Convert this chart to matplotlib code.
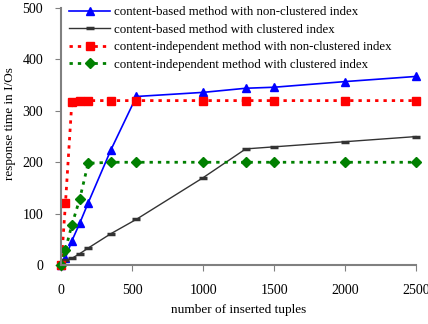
import matplotlib
matplotlib.use("Agg")
import matplotlib.pyplot as plt

plt.rcParams['font.family'] = ['Liberation Serif', 'DejaVu Serif']

tuples = [0, 30, 75, 130, 190, 350, 530, 1000, 1300, 1500, 2000, 2500]
cb_nonclust = [0, 14, 47, 81, 121, 224, 328, 336, 344, 346, 357, 367]
cb_clust = [0, 9, 13, 22, 33, 61, 89, 170, 226, 230, 240, 250]
ci_nonclust = [0, 120, 317, 320, 320, 320, 320, 320, 320, 320, 320, 320]
ci_clust = [0, 30, 78, 128, 198, 200, 200, 200, 200, 200, 200, 200]

labels = ["content-based method with non-clustered index",
          "content-based method with clustered index",
          "content-independent method with non-clustered index",
          "content-independent method with clustered index"]

fig = plt.figure(figsize=(4.28, 3.24), dpi=100)
ax = fig.add_axes([0.143, 0.182, 0.829, 0.793])

ax.plot(tuples, cb_nonclust, color="#0000ff", lw=1.2, marker="^", ms=6,
        label=labels[0], clip_on=False)
ax.plot(tuples, cb_clust, color="#333333", lw=1.0, marker="_", ms=6, mew=2.5,
        label=labels[1], clip_on=False)
ax.plot(tuples, ci_nonclust, color="#ff0000", lw=2, ls=(0, (1.2, 1.8)), marker="s", ms=6,
        label=labels[2], clip_on=False)
ax.plot(tuples, ci_clust, color="#008000", lw=2, ls=(0, (1.2, 1.8)), marker="D", ms=5,
        label=labels[3], clip_on=False)

ax.set_xlim(0, 2500)
ax.set_ylim(0, 500)
ax.set_xticks(range(0, 2501, 500))
ax.set_yticks(range(0, 501, 100))
ax.tick_params(labelsize=10, direction="out", length=4, color="#808080")
ax.tick_params(axis="x", pad=10)
ax.tick_params(axis="y", pad=9)
for side in ["top", "right"]:
    ax.spines[side].set_visible(False)
for side in ["left", "bottom"]:
    ax.spines[side].set_color("#808080")
    ax.spines[side].set_linewidth(1.5)

ax.set_xlabel("number of inserted tuples", fontsize=9.5, labelpad=5)
ax.set_ylabel("response time in I/Os", fontsize=9.5)
ax.yaxis.set_label_coords(-0.128, 0.55)

ax.legend(loc="upper left", bbox_to_anchor=(0.0, 1.038), frameon=False, fontsize=9.3,
          handlelength=3.2, handletextpad=0.3, labelspacing=0.42, borderaxespad=0.2)

fig.savefig("out.png", dpi=100)
